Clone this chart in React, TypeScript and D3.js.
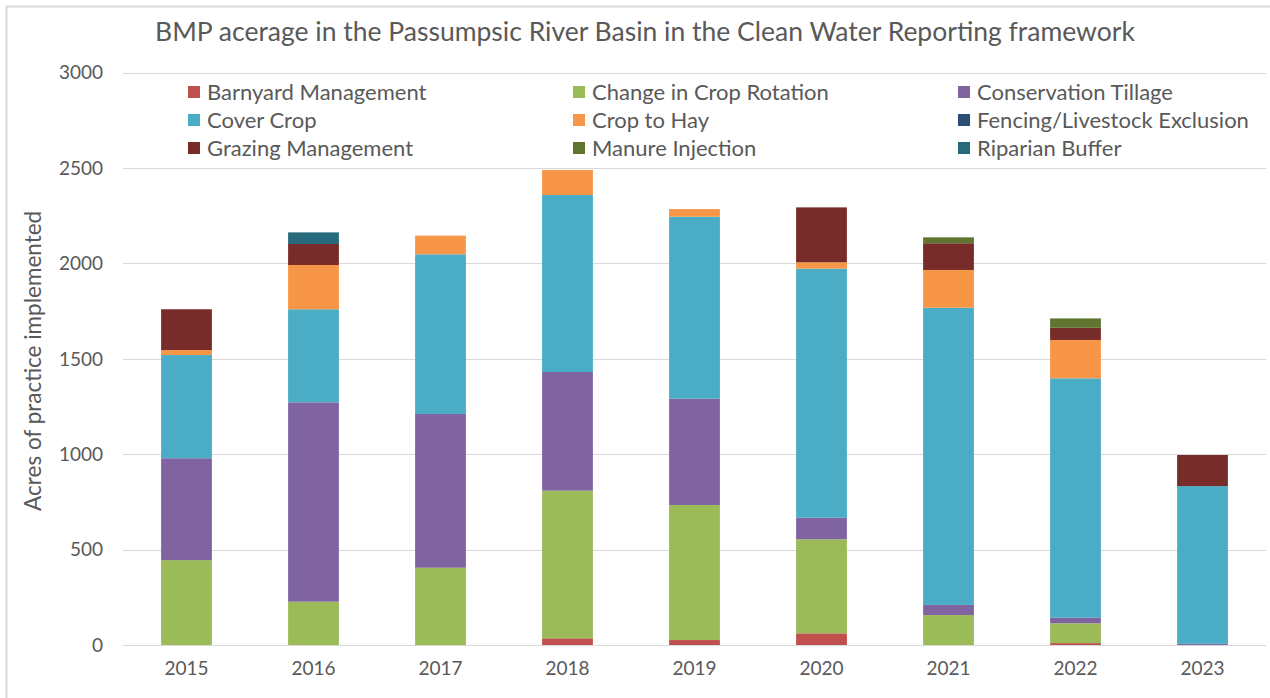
import React, { useRef, useEffect } from "react";
import * as d3 from "d3";

// Years on the x axis
const years = ["2015", "2016", "2017", "2018", "2019", "2020", "2021", "2022", "2023"];

// Acres per practice, one value per year
const barnyard = [0, 0, 0, 35, 26, 61, 0, 10, 0];
const cropRotation = [445, 227, 405, 774, 708, 493, 157, 104, 0];
const conservationTillage = [534, 1045, 806, 622, 557, 113, 53, 29, 6];
const coverCrop = [541, 488, 837, 928, 954, 1306, 1558, 1255, 827];
const cropToHay = [26, 232, 98, 131, 40, 33, 198, 201, 0];
const fencing = [0, 0, 0, 0, 0, 0, 0, 0, 0];
const grazing = [214, 110, 0, 0, 0, 288, 140, 64, 163];
const manure = [0, 0, 0, 0, 0, 0, 31, 49, 0];
const riparian = [0, 61, 0, 0, 0, 0, 0, 0, 0];

const seriesNames = [
  "Barnyard Management",
  "Change in Crop Rotation",
  "Conservation Tillage",
  "Cover Crop",
  "Crop to Hay",
  "Fencing/Livestock Exclusion",
  "Grazing Management",
  "Manure Injection",
  "Riparian Buffer",
];
const seriesValues = [barnyard, cropRotation, conservationTillage, coverCrop, cropToHay, fencing, grazing, manure, riparian];
const seriesColors = ["#c0504d", "#9bbb59", "#8064a2", "#4bacc6", "#f79646", "#2c4d75", "#772c2a", "#5f7530", "#276a7c"];

const yTicks = [0, 500, 1000, 1500, 2000, 2500, 3000];

const W = 1270;
const H = 698;
const FONT = "Lato, 'Open Sans', sans-serif";
const TEXT = "#595959";

const BmpChart: React.FC = () => {
  const ref = useRef<SVGSVGElement | null>(null);

  useEffect(() => {
    document.body.style.margin = "0";
    if (!ref.current) return;
    const svg = d3.select(ref.current);
    svg.selectAll("*").remove();

    const left = 123, right = 1266, top = 72.7, bottom = 645;

    const table = years.map((year, i) => {
      const row: Record<string, any> = { year };
      seriesNames.forEach((n, s) => (row[n] = seriesValues[s][i]));
      return row;
    });

    const x = d3.scaleBand<string>().domain(years).range([left, right]).paddingInner(0.6).paddingOuter(0.3);
    const y = d3.scaleLinear().domain([0, 3000]).range([bottom, top]);
    const color = d3.scaleOrdinal<string, string>().domain(seriesNames).range(seriesColors);

    // chart frame
    svg.append("rect")
      .attr("x", 6.5).attr("y", 6.5).attr("width", W + 10).attr("height", H + 10)
      .attr("fill", "#fff").attr("stroke", "#d9d9d9").attr("stroke-width", 2);

    // gridlines
    svg.append("g")
      .selectAll("line")
      .data(yTicks)
      .join("line")
      .attr("x1", left).attr("x2", right)
      .attr("y1", (d) => Math.round(y(d)) + 0.5).attr("y2", (d) => Math.round(y(d)) + 0.5)
      .attr("stroke", "#d9d9d9").attr("stroke-width", 1);

    // y tick labels
    svg.append("g")
      .selectAll("text")
      .data(yTicks)
      .join("text")
      .attr("x", 103).attr("y", (d) => y(d))
      .attr("dy", "0.35em")
      .attr("text-anchor", "end")
      .attr("fill", TEXT)
      .style("font", `19px ${FONT}`)
      .text((d) => d);

    // bars
    const stack = d3.stack<Record<string, any>>().keys(seriesNames);
    const layers = stack(table);
    svg.append("g")
      .selectAll("g")
      .data(layers)
      .join("g")
      .attr("fill", (d) => color(d.key))
      .selectAll("rect")
      .data((d) => d)
      .join("rect")
      .attr("x", (d) => x(d.data.year)!)
      .attr("width", x.bandwidth())
      .attr("y", (d) => y(d[1]))
      .attr("height", (d) => y(d[0]) - y(d[1]));

    // x labels
    svg.append("g")
      .selectAll("text")
      .data(years)
      .join("text")
      .attr("x", (d) => x(d)! + x.bandwidth() / 2)
      .attr("y", 668)
      .attr("dy", "0.35em")
      .attr("text-anchor", "middle")
      .attr("fill", TEXT)
      .style("font", `19px ${FONT}`)
      .text((d) => d);

    // y axis title
    svg.append("text")
      .attr("transform", `translate(41,${(top + bottom) / 2 + 2}) rotate(-90)`)
      .attr("text-anchor", "middle")
      .attr("fill", TEXT)
      .style("font", `22.5px ${FONT}`)
      .text("Acres of practice implemented");

    // title
    svg.append("text")
      .attr("x", 645).attr("y", 41)
      .attr("text-anchor", "middle")
      .attr("fill", TEXT)
      .style("font", `26.5px ${FONT}`)
      .text("BMP acerage in the Passumpsic River Basin in the Clean Water Reporting framework");

    // legend, 3 columns
    const legend = svg.append("g")
      .selectAll("g")
      .data(seriesNames)
      .join("g")
      .attr("transform", (_, i) => `translate(${188 + (i % 3) * 385},${92 + Math.floor(i / 3) * 28})`);
    legend.append("rect")
      .attr("x", 0).attr("y", -6).attr("width", 12).attr("height", 12)
      .attr("fill", (d) => color(d));
    legend.append("text")
      .attr("x", 19).attr("y", 0).attr("dy", "0.35em")
      .attr("fill", TEXT)
      .style("font", `22px ${FONT}`)
      .text((d) => d);
  }, []);

  return <svg ref={ref} width={W} height={H} style={{ display: "block" }}></svg>;
};

export default function App() {
  return <BmpChart />;
}
